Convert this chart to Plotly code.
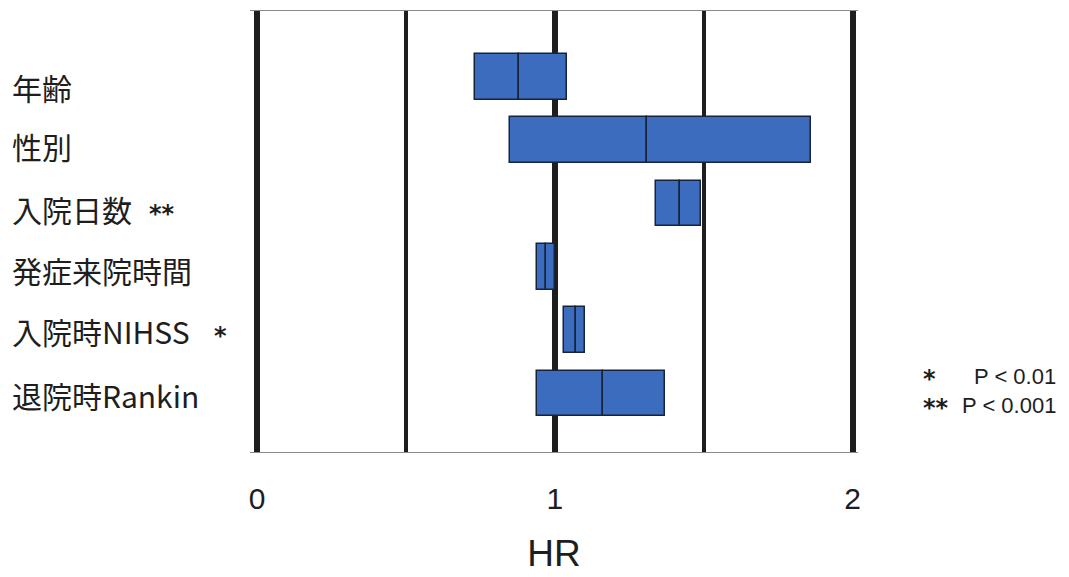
import plotly.graph_objects as go

# Hazard ratios: lower bound, point estimate, upper bound per variable
variables = ["年齢", "性別", "入院日数", "発症来院時間", "入院時NIHSS", "退院時Rankin"]
marks = ["", "", "**", "", "*", ""]
hr_low = [0.73, 0.85, 1.34, 0.94, 1.03, 0.94]
hr_est = [0.88, 1.31, 1.42, 0.97, 1.07, 1.16]
hr_high = [1.04, 1.86, 1.49, 1.00, 1.10, 1.37]
x_ticks = [0, 1, 2]
key_marks = ["*", "**"]
key_text = ["P < 0.01", "P < 0.001"]

rows = list(range(len(variables)))
BLUE = "#3b6cbe"
EDGE = "#16233a"
INK = "#1e1e1e"

L, T, W, H = 250, 10, 608, 443  # plot area in pixels


def px_x(p):
    return (p - L) / W


def px_y(p):
    return (T + H - p) / H


fig = go.Figure()

# each box is split at the point estimate into a left and right half
fig.add_trace(go.Bar(
    y=rows, x=[e - l for l, e in zip(hr_low, hr_est)], base=hr_low,
    orientation="h", width=0.72,
    marker=dict(color=BLUE, line=dict(color=EDGE, width=1.5)),
    hoverinfo="skip", showlegend=False,
))
fig.add_trace(go.Bar(
    y=rows, x=[h - e for e, h in zip(hr_est, hr_high)], base=hr_est,
    orientation="h", width=0.72,
    marker=dict(color=BLUE, line=dict(color=EDGE, width=1.5)),
    hoverinfo="skip", showlegend=False,
))

# variable labels, left aligned in the margin, with significance marks
label_shift = [-10, -6, -5, -3, -1, -2]
mark_x = {"**": 147, "*": 212}
STAR_FONT = dict(family="DejaVu Sans", size=24, color=INK, weight="bold")
STAR_DROP = -5
for i, (name, m) in enumerate(zip(variables, marks)):
    fig.add_annotation(
        x=px_x(10), xref="paper", xanchor="left",
        y=i, yref="y", yanchor="middle", yshift=label_shift[i],
        text=name, showarrow=False,
        font=dict(family="Noto Sans CJK JP", size=30, color=INK),
    )
    if m:
        fig.add_annotation(
            x=px_x(mark_x[m]), xref="paper", xanchor="left",
            y=i, yref="y", yanchor="middle", yshift=label_shift[i] + STAR_DROP,
            text=m, showarrow=False, font=STAR_FONT,
        )

# significance key
for star, ptxt, py in zip(key_marks, key_text, [377, 406]):
    fig.add_annotation(x=px_x(921), xref="paper", xanchor="left",
                       y=px_y(py), yref="paper", yanchor="middle",
                       yshift=STAR_DROP + 2, text=star, showarrow=False,
                       font=STAR_FONT)
    fig.add_annotation(x=px_x(1058), xref="paper", xanchor="right",
                       y=px_y(py), yref="paper", yanchor="middle", text=ptxt,
                       showarrow=False,
                       font=dict(family="Liberation Sans", size=22, color=INK))

fig.update_layout(
    width=1069, height=577,
    margin=dict(l=L, r=1069 - L - W, t=T, b=577 - T - H),
    paper_bgcolor="white", plot_bgcolor="white",
    barmode="overlay", bargap=0,
    showlegend=False,
    xaxis=dict(
        range=[-0.024, 2.018],
        tickvals=x_ticks, ticktext=[str(v) for v in x_ticks],
        showgrid=True, gridcolor=INK, gridwidth=6,
        minor=dict(dtick=0.5, tick0=0, showgrid=True, gridcolor=INK, gridwidth=3.5),
        zeroline=False,
        showline=True, mirror=True, linecolor="#8a8a8a", linewidth=1,
        ticks="", ticklabelstandoff=20,
        tickfont=dict(family="Liberation Sans", size=30, color=INK),
        title=dict(text="HR", standoff=26,
                   font=dict(family="Liberation Sans", size=37, color=INK)),
    ),
    yaxis=dict(
        range=[5.925, -1.042],
        showgrid=False, zeroline=False, showline=False,
        showticklabels=False, ticks="",
    ),
)

fig.write_html("out.html")
